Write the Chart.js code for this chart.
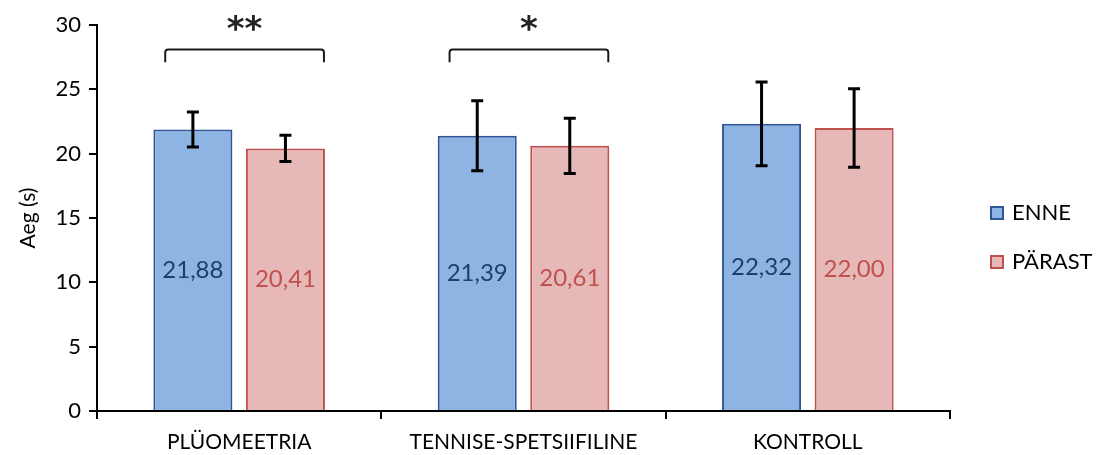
<!DOCTYPE html>
<html>
<head>
<meta charset="utf-8">
<script src="https://cdn.jsdelivr.net/npm/chart.js@4/dist/chart.umd.min.js"></script>
<style>
  html,body{margin:0;padding:0;background:#fff;}
  #wrap{width:1098px;height:455px;position:relative;}
</style>
</head>
<body>
<div id="wrap"><canvas id="c" width="1098" height="455"></canvas></div>
<script>
const categories = ["PLÜOMEETRIA", "TENNISE-SPETSIIFILINE", "KONTROLL"];
const seriesNames = ["ENNE", "PÄRAST"];
const enneValues = [21.88, 21.39, 22.32];
const parastValues = [20.41, 20.61, 22.00];
const enneSD = [1.36, 2.72, 3.25];
const parastSD = [1.02, 2.15, 3.05];
const yTicks = [0, 5, 10, 15, 20, 25, 30];
const significance = ["**", "*", ""];
const bracketLevel = [28.1, 28.1, null];

const FONT = "Lato, 'Open Sans', sans-serif";

const errorBarPlugin = {
  id: 'errorBars',
  afterDatasetsDraw(chart) {
    const ctx = chart.ctx;
    const y = chart.scales.y;
    const sds = [enneSD, parastSD];
    ctx.save();
    ctx.strokeStyle = '#000';
    ctx.lineWidth = 3;
    chart.data.datasets.forEach((ds, di) => {
      const meta = chart.getDatasetMeta(di);
      meta.data.forEach((bar, i) => {
        const v = ds.data[i], sd = sds[di][i];
        const top = y.getPixelForValue(v + sd), bot = y.getPixelForValue(v - sd);
        const x = bar.x, cap = 6;
        ctx.beginPath();
        ctx.moveTo(x, top); ctx.lineTo(x, bot);
        ctx.moveTo(x - cap, top); ctx.lineTo(x + cap, top);
        ctx.moveTo(x - cap, bot); ctx.lineTo(x + cap, bot);
        ctx.stroke();
      });
    });
    // value labels
    ctx.font = "24px " + FONT;
    ctx.textAlign = 'center';
    ctx.textBaseline = 'middle';
    const labelColors = ['#1F3E6B', '#C0504D'];
    chart.data.datasets.forEach((ds, di) => {
      const meta = chart.getDatasetMeta(di);
      meta.data.forEach((bar, i) => {
        const v = ds.data[i];
        ctx.fillStyle = labelColors[di];
        ctx.fillText(v.toFixed(2).replace('.', ','), bar.x, y.getPixelForValue(v / 2));
      });
    });
    // significance brackets
    const m0 = chart.getDatasetMeta(0), m1 = chart.getDatasetMeta(1);
    ctx.strokeStyle = '#1a1a1a';
    ctx.lineWidth = 2;
    categories.forEach((c, i) => {
      if (!significance[i]) return;
      const b0 = m0.data[i], b1 = m1.data[i];
      const xl = b0.x - b0.width * 0.35, xr = b1.x + b1.width / 2 - 1;
      const yt = y.getPixelForValue(bracketLevel[i]);
      const yb = y.getPixelForValue(bracketLevel[i] - 1);
      ctx.beginPath();
      ctx.moveTo(xl, yb); ctx.lineTo(xl, yt + 3);
      ctx.quadraticCurveTo(xl, yt, xl + 3, yt);
      ctx.lineTo(xr - 3, yt);
      ctx.quadraticCurveTo(xr, yt, xr, yt + 3);
      ctx.lineTo(xr, yb);
      ctx.stroke();
      ctx.fillStyle = '#222';
      ctx.font = "bold 34px 'DejaVu Sans', sans-serif";
      ctx.textBaseline = 'alphabetic';
      ctx.fillText(significance[i], (xl + xr) / 2, yt - 9);
    });
    ctx.restore();
  }
};

const legendPlugin = {
  id: 'customLegend',
  afterDraw(chart) {
    const ctx = chart.ctx;
    const items = [
      {t: seriesNames[0], f: '#8EB4E3', s: '#2E5597'},
      {t: seriesNames[1], f: '#E6B9B8', s: '#C0504D'}
    ];
    ctx.save();
    ctx.font = "22px " + FONT;
    ctx.textBaseline = 'middle';
    ctx.textAlign = 'left';
    items.forEach((it, k) => {
      const cy = 213 + k * 49;
      ctx.fillStyle = it.f;
      ctx.strokeStyle = it.s;
      ctx.lineWidth = 2;
      ctx.fillRect(991, cy - 6, 12, 12);
      ctx.strokeRect(991, cy - 6, 12, 12);
      ctx.fillStyle = '#000';
      ctx.fillText(it.t, 1012, cy);
    });
    ctx.restore();
  }
};

new Chart(document.getElementById('c'), {
  type: 'bar',
  data: {
    labels: categories,
    datasets: [
      {label: seriesNames[0], data: enneValues, backgroundColor: '#8EB4E3', borderColor: '#2E5597', borderWidth: 2,
       categoryPercentage: 0.651, barPercentage: 0.854},
      {label: seriesNames[1], data: parastValues, backgroundColor: '#E6B9B8', borderColor: '#C0504D', borderWidth: 2,
       categoryPercentage: 0.651, barPercentage: 0.854}
    ]
  },
  options: {
    responsive: false,
    animation: false,
    layout: {padding: {top: 25, right: 148, left: 0, bottom: 0}},
    plugins: {legend: {display: false}, tooltip: {enabled: false}},
    scales: {
      x: {
        offset: true,
        afterFit(scale) { scale.height = 44; },
        grid: {offset: true, drawOnChartArea: false, color: '#000', tickLength: 8, lineWidth: 2},
        border: {color: '#000', width: 2},
        ticks: {color: '#000', font: {family: FONT, size: 21}, padding: 11}
      },
      y: {
        min: 0, max: 30,
        afterFit(scale) { scale.width = 97; },
        afterBuildTicks(scale) { scale.ticks = yTicks.map(v => ({value: v})); },
        grid: {drawOnChartArea: false, color: '#000', tickLength: 8, lineWidth: 2},
        border: {color: '#000', width: 2},
        ticks: {color: '#000', font: {family: FONT, size: 22}, padding: 8},
        title: {display: true, text: 'Aeg (s)', color: '#000', font: {family: FONT, size: 21}, padding: {top: 16, bottom: 6}}
      }
    }
  },
  plugins: [errorBarPlugin, legendPlugin]
});
</script>
</body>
</html>
